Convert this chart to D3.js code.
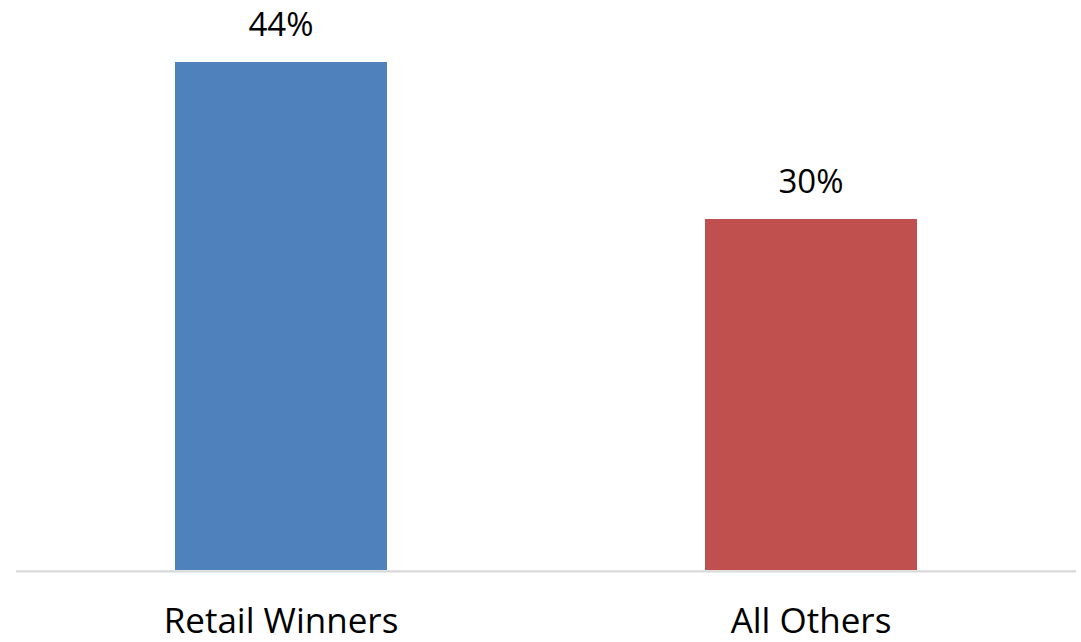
<!DOCTYPE html>
<html><head><meta charset="utf-8">
<script src="https://cdn.jsdelivr.net/npm/d3@7"></script>
<style>html,body{margin:0;padding:0;background:#fff;}svg{display:block;}</style>
</head><body>
<script>
const categories = ["Retail Winners", "All Others"];
const values = [0.44, 0.304];
const colors = ["#4F81BD", "#C0504D"];

const W = 1081, H = 642;
const svg = d3.select("body").append("svg").attr("width", W).attr("height", H);
const font = "'Open Sans', 'Noto Sans', sans-serif";

const x = d3.scaleBand().domain(categories).range([16, 1076]).paddingInner(0.6).paddingOuter(0.3);
const y = d3.scaleLinear().domain([0, 0.5]).range([570, -7.3]);

svg.selectAll("rect.bar").data(values).join("rect")
  .attr("class", "bar")
  .attr("x", (d, i) => x(categories[i]))
  .attr("y", d => y(d))
  .attr("width", x.bandwidth())
  .attr("height", d => y(0) - y(d))
  .attr("fill", (d, i) => colors[i]);

svg.selectAll("text.val").data(values).join("text")
  .attr("class", "val")
  .attr("x", (d, i) => x(categories[i]) + x.bandwidth() / 2)
  .attr("y", d => y(d) - 26)
  .attr("text-anchor", "middle")
  .attr("font-family", font).attr("font-size", 33).attr("fill", "#000")
  .text(d => d3.format(".0%")(d));

svg.append("line").attr("x1", 16).attr("x2", 1076).attr("y1", 571.4).attr("y2", 571.4)
  .attr("stroke", "#D9D9D9").attr("stroke-width", 2.4);

svg.selectAll("text.cat").data(categories).join("text")
  .attr("class", "cat")
  .attr("x", d => x(d) + x.bandwidth() / 2)
  .attr("y", 633)
  .attr("text-anchor", "middle")
  .attr("font-family", font).attr("font-size", 35).attr("fill", "#000")
  .text(d => d);
</script>
</body></html>
